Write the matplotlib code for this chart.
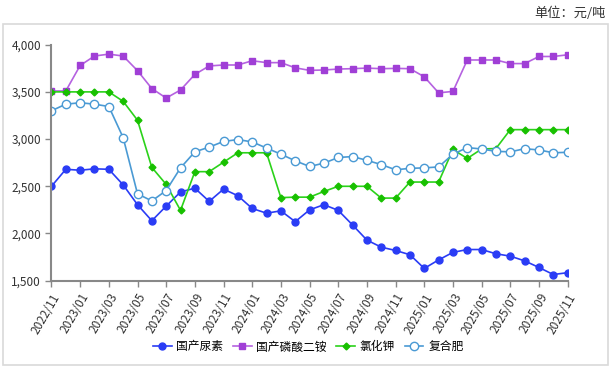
import matplotlib
matplotlib.use("Agg")
import matplotlib.pyplot as plt
from matplotlib.patches import Rectangle
from matplotlib.ticker import FuncFormatter

plt.rcParams['font.family'] = ['Noto Sans CJK SC', 'DejaVu Sans']

# months 2022/11 .. 2025/11
months = []
y, m = 2022, 11
for _ in range(37):
    months.append(f"{y}/{m:02d}")
    m += 1
    if m > 12:
        m = 1
        y += 1

urea = [2500, 2680, 2670, 2685, 2680, 2515, 2305, 2135, 2290, 2440, 2480, 2340, 2470,
        2400, 2265, 2215, 2240, 2125, 2250, 2305, 2245, 2090, 1930, 1855, 1820, 1775,
        1630, 1720, 1800, 1830, 1830, 1785, 1760, 1710, 1640, 1565, 1585]
dap = [3510, 3510, 3780, 3880, 3900, 3880, 3725, 3535, 3435, 3520, 3685, 3775, 3785,
       3785, 3830, 3810, 3810, 3755, 3728, 3732, 3742, 3746, 3752, 3746, 3749, 3746,
       3660, 3490, 3505, 3838, 3838, 3838, 3800, 3800, 3875, 3875, 3893]
kcl = [3500, 3500, 3500, 3500, 3500, 3400, 3200, 2700, 2520, 2245, 2655, 2655, 2755,
       2855, 2855, 2855, 2380, 2385, 2385, 2445, 2500, 2500, 2500, 2375, 2375, 2545,
       2545, 2545, 2890, 2795, 2895, 2900, 3100, 3100, 3100, 3100, 3100]
compound = [3300, 3370, 3385, 3370, 3345, 3015, 2420, 2345, 2455, 2695, 2865, 2915, 2975,
            2995, 2970, 2905, 2840, 2770, 2710, 2745, 2805, 2815, 2775, 2730, 2675, 2690,
            2695, 2705, 2840, 2910, 2895, 2870, 2865, 2898, 2885, 2855, 2860]

x = list(range(len(months)))

fig = plt.figure(figsize=(6.15, 3.70), dpi=100)
fig.patches.append(Rectangle((3 / 615, 1 - 365 / 370), 605 / 615, 341 / 370,
                             transform=fig.transFigure, fill=False,
                             edgecolor='#d9d9d9', linewidth=1.2))
fig.text(0.985, 0.965, "单位：元/吨", ha='right', va='center', fontsize=9.5, color='#333333')

ax = fig.add_axes([0.0837, 0.2414, 0.8393, 0.6378])
ax.plot(x, urea, color='#2a3cf5', lw=1.2, marker='o', ms=5, label='国产尿素')
ax.plot(x, dap, color='#b562e0', lw=1.2, marker='s', ms=5, mfc='#a03fd6', mec='#a03fd6',
        label='国产磷酸二铵')
ax.plot(x, kcl, color='#2bd21a', lw=1.2, marker='D', ms=3.5, mfc='#18c000', mec='#18c000',
        label='氯化钾')
ax.plot(x, compound, color='#4a9ad4', lw=1.2, marker='o', ms=6, mfc='white', mec='#4a9ad4',
        label='复合肥')

ax.set_xlim(0, 36)
ax.set_ylim(1500, 4000)
ax.set_yticks([1500, 2000, 2500, 3000, 3500, 4000])
ax.yaxis.set_major_formatter(FuncFormatter(lambda v, p: f"{int(v):,}"))
ax.set_xticks(x[::2])
ax.set_xticklabels(months[::2], rotation=60, ha='right', rotation_mode='anchor')
ax.tick_params(axis='both', labelsize=8.5, colors='#333333', length=4, width=1)
ax.tick_params(axis='both', color='#888888')
for s in ['top', 'right']:
    ax.spines[s].set_visible(False)
for s in ['left', 'bottom']:
    ax.spines[s].set_color('#888888')
    ax.spines[s].set_linewidth(1.5)

ax.legend(loc='center', bbox_to_anchor=(0.497, -0.281), ncol=4, frameon=False,
          fontsize=8.5, handlelength=1.6, columnspacing=0.8, handletextpad=0.4)

fig.savefig("out.png", dpi=100)
